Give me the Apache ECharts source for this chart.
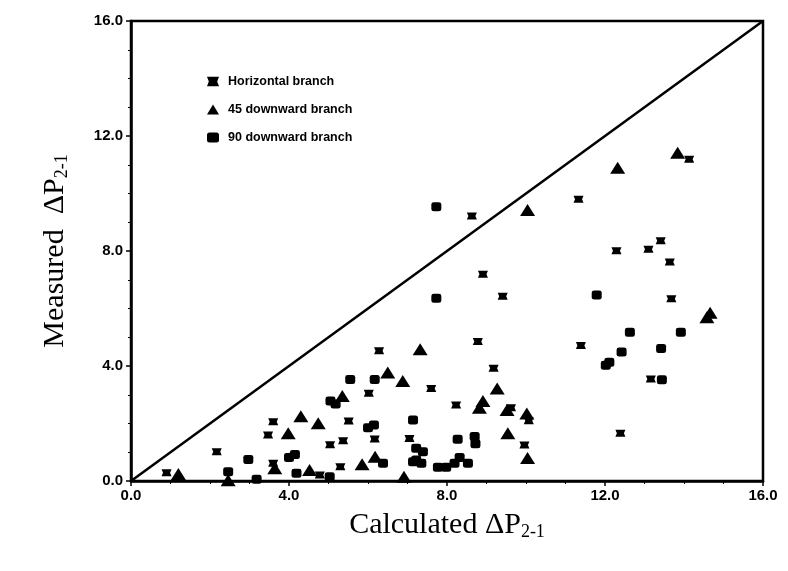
<!DOCTYPE html>
<html>
<head>
<meta charset="utf-8">
<script src="https://cdn.jsdelivr.net/npm/echarts@6/dist/echarts.min.js"></script>
<style>
html,body{margin:0;padding:0;background:#fff;}
#chart{width:788px;height:571px;}
</style>
</head>
<body>
<div id="chart"></div>
<script>
var axisTicks = [0, 4, 8, 12, 16];
var seriesNames = ['Horizontal branch', '45 downward branch', '90 downward branch'];

var horizontalBranch = [
  [0.90,0.29],[2.17,1.02],[3.47,1.60],[3.60,2.06],[3.60,0.62],[4.78,0.21],
  [5.04,1.26],[5.37,1.40],[5.30,0.50],[5.51,2.09],[6.02,3.05],[6.17,1.46],
  [7.05,1.48],[7.60,3.22],[8.23,2.64],[6.28,4.53],[8.78,4.85],[9.18,3.92],
  [9.62,2.55],[9.96,1.25],[10.07,2.10],[8.91,7.19],[9.41,6.43],[8.63,9.22],
  [11.33,9.80],[14.13,11.19],[13.41,8.36],[13.10,8.06],[12.29,8.01],[13.64,7.62],
  [13.68,6.34],[11.39,4.71],[13.16,3.55],[12.39,1.66]
];
var downward45 = [
  [1.20,0.24],[2.46,0.03],[3.64,0.44],[3.98,1.66],[4.30,2.25],[4.52,0.38],
  [4.74,2.01],[5.35,2.96],[5.85,0.58],[6.18,0.84],[6.50,3.77],[6.88,3.48],
  [6.91,0.15],[7.32,4.58],[8.91,2.78],[8.82,2.55],[9.27,3.22],[9.52,2.47],
  [10.02,2.35],[9.54,1.66],[10.04,0.80],[10.04,9.43],[12.32,10.90],[13.84,11.42],
  [14.66,5.85],[14.58,5.70]
];
var downward90 = [
  [2.46,0.32],[2.97,0.75],[3.18,0.06],[4.00,0.82],[4.15,0.92],[4.19,0.27],
  [5.03,0.15],[5.05,2.78],[5.18,2.68],[5.55,3.53],[6.17,3.53],[6.00,1.85],
  [6.15,1.95],[6.38,0.62],[7.14,2.12],[7.14,0.67],[7.22,1.14],[7.39,1.02],
  [7.22,0.73],[7.35,0.62],[7.77,0.48],[7.98,0.48],[8.19,0.62],[8.32,0.82],
  [8.53,0.62],[8.27,1.45],[8.70,1.55],[8.72,1.30],[7.73,9.54],[7.73,6.36],
  [11.79,6.47],[12.63,5.17],[13.92,5.17],[13.42,4.61],[12.42,4.49],[12.11,4.13],
  [12.02,4.03],[13.44,3.52]
];
var equalityLine = [[0,0],[16,16]];

var bowtie = 'path://M0,0 L10,0 L8.5,4 L10,8 L0,8 L1.5,4 Z';

var chart = echarts.init(document.getElementById('chart'), null, {renderer:'canvas'});
var labelStyle = {color:'#000', fontFamily:'Liberation Sans, Arial, sans-serif', fontWeight:'bold', fontSize:15,
  formatter:function(v){ return v.toFixed(1); }};
var nameRich = {
  a:{fontFamily:'Liberation Serif, Times New Roman, serif', fontSize:30, color:'#000'},
  s:{fontFamily:'Liberation Serif, Times New Roman, serif', fontSize:18, color:'#000', verticalAlign:'bottom', padding:[14,0,0,0]}
};
var solid = {color:'#000', opacity:1};
chart.setOption({
  animation:false,
  backgroundColor:'#fff',
  grid:{left:131, right:25, top:21, bottom:90, show:true, borderColor:'#000', borderWidth:2.5, backgroundColor:'transparent'},
  legend:{
    orient:'vertical', left:202, top:70, itemGap:15, itemWidth:12, itemHeight:10,
    data:seriesNames,
    textStyle:{fontFamily:'Liberation Sans, Arial, sans-serif', fontSize:12.5, fontWeight:'bold', color:'#000', padding:[0,0,0,4]}
  },
  xAxis:{
    type:'value', min:axisTicks[0], max:axisTicks[axisTicks.length-1], interval:4,
    axisLine:{lineStyle:{color:'#000', width:2.5}},
    axisTick:{show:true, length:5, lineStyle:{color:'#000', width:1.5}},
    minorTick:{show:true, splitNumber:4, length:3, lineStyle:{color:'#000'}},
    splitLine:{show:false},
    axisLabel:Object.assign({margin:7}, labelStyle),
    name:'{a|Calculated ΔP}{s|2-1}', nameLocation:'middle', nameGap:28,
    nameTextStyle:{rich:nameRich}
  },
  yAxis:{
    type:'value', min:axisTicks[0], max:axisTicks[axisTicks.length-1], interval:4,
    axisLine:{lineStyle:{color:'#000', width:2.5}},
    axisTick:{show:true, length:5, lineStyle:{color:'#000', width:1.5}},
    minorTick:{show:true, splitNumber:4, length:3, lineStyle:{color:'#000'}},
    splitLine:{show:false},
    axisLabel:Object.assign({margin:8}, labelStyle),
    name:'{a|Measured  ΔP}{s|2-1}', nameLocation:'middle', nameGap:60, nameRotate:90,
    nameTextStyle:{rich:nameRich}
  },
  series:[
    {name:seriesNames[0], type:'scatter', data:horizontalBranch, symbol:bowtie, symbolSize:[10,7],
      itemStyle:solid},
    {name:seriesNames[1], type:'scatter', data:downward45, symbol:'triangle', symbolSize:[15,12],
      itemStyle:solid},
    {name:seriesNames[2], type:'scatter', data:downward90, symbol:'roundRect', symbolSize:[10,9],
      itemStyle:solid},
    {type:'line', data:equalityLine, showSymbol:false, symbol:'none', silent:true,
      lineStyle:{color:'#000', width:2.5}, z:1}
  ]
});
</script>
</body>
</html>
